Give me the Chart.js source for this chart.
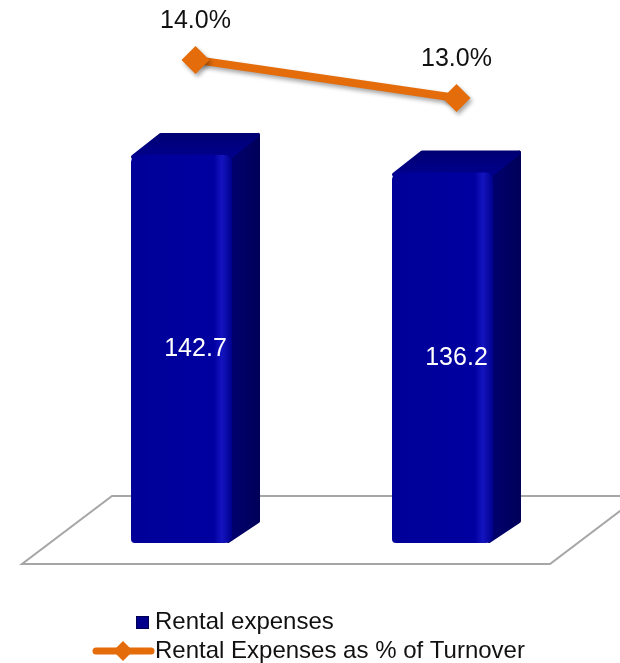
<!DOCTYPE html>
<html>
<head>
<meta charset="utf-8">
<script src="https://cdn.jsdelivr.net/npm/chart.js@4"></script>
<style>
  html, body { margin: 0; padding: 0; background: #fff; }
  #wrap { width: 620px; height: 663px; }
</style>
</head>
<body>
<div id="wrap"><canvas id="myChart" width="620" height="663"></canvas></div>
<script>
// Данные
var periods = ['Period 1', 'Period 2'];
var rentalExpenses = [142.7, 136.2];
var rentalPctTurnover = [14.0, 13.0];
var barLabel = 'Rental expenses';
var lineLabel = 'Rental Expenses as % of Turnover';

var FONT = '"Liberation Sans", Arial, Helvetica, sans-serif';
var ORANGE = '#e46c0a';
var DEPTH_X = 28, DEPTH_Y = -22;

// Пол (3D плоскость) и объемные столбцы
var bars3d = {
    id: 'bars3d',
    beforeDatasetsDraw: function(chart) {
        var ctx = chart.ctx, a = chart.chartArea;
        // пол
        var fy = a.bottom + 21, by = a.bottom - 47;
        var fl = a.left - 43, fr = a.right - 37, sh = 90;
        ctx.save();
        ctx.strokeStyle = '#a6a6a6';
        ctx.lineWidth = 2;
        ctx.beginPath();
        ctx.moveTo(fl, fy);
        ctx.lineTo(fr, fy);
        ctx.lineTo(fr + sh, by);
        ctx.lineTo(fl + sh, by);
        ctx.closePath();
        ctx.stroke();
        ctx.restore();

        // столбцы
        var meta = chart.getDatasetMeta(0);
        meta.data.forEach(function(el) {
            var w = el.width;
            var x0 = el.x - DEPTH_X / 2 - w / 2, x1 = x0 + w;
            var top = el.y, base = el.base;
            ctx.save();
            ctx.lineJoin = 'round';
            ctx.lineWidth = 4;
            // боковая грань
            var gs = ctx.createLinearGradient(x1, 0, x1 + DEPTH_X, 0);
            gs.addColorStop(0, '#00006e');
            gs.addColorStop(1, '#000058');
            ctx.fillStyle = gs; ctx.strokeStyle = gs;
            ctx.beginPath();
            ctx.moveTo(x1 - 4, top);
            ctx.lineTo(x1 + DEPTH_X - 2, top + DEPTH_Y + 2);
            ctx.lineTo(x1 + DEPTH_X - 2, base + DEPTH_Y);
            ctx.lineTo(x1 - 4, base - 2);
            ctx.closePath();
            ctx.fill(); ctx.stroke();
            // верхняя грань
            var gt = ctx.createLinearGradient(0, top + DEPTH_Y, 0, top);
            gt.addColorStop(0, '#000072');
            gt.addColorStop(1, '#00008a');
            ctx.fillStyle = gt; ctx.strokeStyle = gt;
            ctx.beginPath();
            ctx.moveTo(x0 + 2, top + 2);
            ctx.lineTo(x0 + DEPTH_X + 2, top + DEPTH_Y + 2);
            ctx.lineTo(x1 + DEPTH_X - 2, top + DEPTH_Y + 2);
            ctx.lineTo(x1 - 2, top + 2);
            ctx.closePath();
            ctx.fill(); ctx.stroke();
            // передняя грань
            var gf = ctx.createLinearGradient(x0, 0, x1, 0);
            gf.addColorStop(0, '#000098');
            gf.addColorStop(0.82, '#0000a0');
            gf.addColorStop(0.9, '#1414c0');
            gf.addColorStop(1, '#00008c');
            ctx.fillStyle = gf;
            ctx.beginPath();
            ctx.roundRect(x0, top, w, base - top, [7, 7, 7, 4]);
            ctx.fill();
            ctx.restore();
        });
    },
    afterDatasetsDraw: function(chart) {
        var ctx = chart.ctx;
        ctx.save();
        ctx.textAlign = 'center';
        ctx.textBaseline = 'middle';
        ctx.font = '25px ' + FONT;
        // подписи столбцов
        ctx.fillStyle = '#ffffff';
        chart.getDatasetMeta(0).data.forEach(function(el, i) {
            ctx.fillText(rentalExpenses[i].toFixed(1), el.x, (el.y + el.base) / 2);
        });
        // подписи линии
        ctx.fillStyle = '#111111';
        chart.getDatasetMeta(1).data.forEach(function(el, i) {
            ctx.fillText(rentalPctTurnover[i].toFixed(1) + '%', el.x, el.y - 39);
        });

        // легенда
        ctx.textAlign = 'left';
        ctx.font = '24px ' + FONT;
        ctx.fillStyle = '#00008c';
        ctx.strokeStyle = '#000050';
        ctx.lineWidth = 1;
        ctx.fillRect(136, 616, 13, 13);
        ctx.strokeRect(136.5, 616.5, 12, 12);
        ctx.fillStyle = '#111111';
        ctx.fillText(barLabel, 155, 622);

        ctx.strokeStyle = ORANGE;
        ctx.lineWidth = 7;
        ctx.lineCap = 'round';
        ctx.beginPath();
        ctx.moveTo(96, 651);
        ctx.lineTo(151, 651);
        ctx.stroke();
        ctx.fillStyle = ORANGE;
        ctx.beginPath();
        ctx.moveTo(123, 641); ctx.lineTo(133, 651); ctx.lineTo(123, 661); ctx.lineTo(113, 651);
        ctx.closePath();
        ctx.fill();
        ctx.fillStyle = '#111111';
        ctx.fillText(lineLabel, 155, 651);
        ctx.restore();
    },
    beforeDatasetDraw: function(chart, args) {
        if (args.index === 1) {
            var ctx = chart.ctx;
            ctx.save();
            ctx.shadowColor = 'rgba(0,0,0,0.35)';
            ctx.shadowBlur = 4;
            ctx.shadowOffsetX = 2;
            ctx.shadowOffsetY = 3;
        }
    },
    afterDatasetDraw: function(chart, args) {
        if (args.index === 1) chart.ctx.restore();
    }
};

var ctx = document.getElementById('myChart').getContext('2d');
var myChart = new Chart(ctx, {
    type: 'bar',
    data: {
        labels: periods,
        datasets: [{
            label: barLabel,
            data: rentalExpenses,
            yAxisID: 'y',
            backgroundColor: 'rgba(0,0,0,0)',
            borderWidth: 0,
            barThickness: 101,
            order: 2
        }, {
            type: 'line',
            label: lineLabel,
            data: rentalPctTurnover,
            yAxisID: 'y2',
            borderColor: ORANGE,
            backgroundColor: ORANGE,
            borderWidth: 8,
            pointStyle: 'rectRot',
            pointRadius: 14,
            pointBorderWidth: 0,
            tension: 0,
            order: 1
        }]
    },
    options: {
        responsive: false,
        animation: false,
        layout: { padding: { left: 65, right: 33, top: 20, bottom: 120 } },
        plugins: {
            legend: { display: false },
            tooltip: { enabled: false }
        },
        scales: {
            x: { display: false, offset: true },
            y: { display: false, min: 0, max: 192.3 },
            y2: { display: false, position: 'right', min: 1.29, max: 15.05 }
        }
    },
    plugins: [bars3d]
});
</script>
</body>
</html>
